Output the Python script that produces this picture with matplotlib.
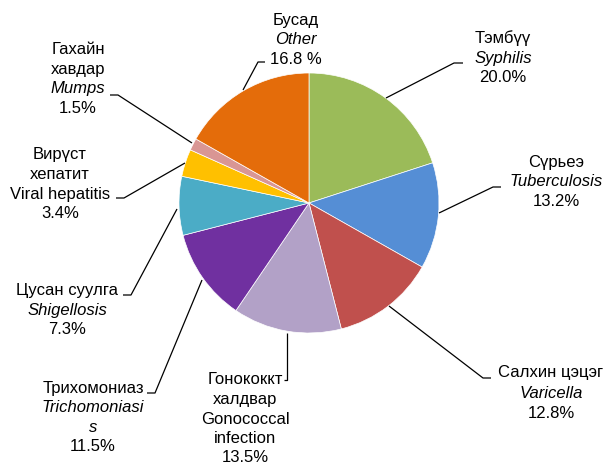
import matplotlib
matplotlib.use("Agg")
import matplotlib.pyplot as plt

plt.rcParams['font.family'] = ['Liberation Sans', 'DejaVu Sans']

# Data (clockwise from 12 o'clock)
categories = ["Syphilis", "Tuberculosis", "Varicella", "Gonococcal infection",
              "Trichomoniasis", "Shigellosis", "Viral hepatitis", "Mumps", "Other"]
values = [20.0, 13.2, 12.8, 13.5, 11.5, 7.3, 3.4, 1.5, 16.8]
colors = ["#9BBB59", "#558ED5", "#C0504D", "#B2A1C7", "#7030A0",
          "#4BACC6", "#FFC000", "#D99694", "#E46C0A"]

# label lines: (text, italic)
label_lines = [
    [("Тэмбүү", False), ("Syphilis", True), ("20.0%", False)],
    [("Сүрьеэ", False), ("Tuberculosis", True), ("13.2%", False)],
    [("Салхин цэцэг", False), ("Varicella", True), ("12.8%", False)],
    [("Гонококкт", False), ("халдвар", False), ("Gonococcal", False),
     ("infection", False), ("13.5%", False)],
    [("Трихомониаз", False), ("Trichomoniasi", True), ("s", True), ("11.5%", False)],
    [("Цусан суулга", False), ("Shigellosis", True), ("7.3%", False)],
    [("Вирүст", False), ("хепатит", False), ("Viral hepatitis", False), ("3.4%", False)],
    [("Гахайн", False), ("хавдар", False), ("Mumps", True), ("1.5%", False)],
    [("Бусад", False), ("Other", True), ("16.8 %", False)],
]

W, H = 612, 466
fig = plt.figure(figsize=(W / 100, H / 100), dpi=100)
ax = fig.add_axes([0, 0, 1, 1])

def Y(y):
    return H - y

cx, cy, r = 309, 203, 130
ax.pie(values, colors=colors, startangle=90, counterclock=False,
       center=(cx, Y(cy)), radius=r,
       wedgeprops=dict(edgecolor="white", linewidth=0.5))

# label layout: center x, first line y, line spacing (pixels)
label_pos = [
    (503, 38, 20),
    (556, 162, 20),
    (551, 373, 20),
    (245, 380, 19.5),
    (93, 388, 19.5),
    (67, 291, 19.5),
    (60, 155, 19.5),
    (78, 50, 19.5),
    (296, 20, 19.5),
]
leaders = [
    [(463, 63), (454, 63), (386, 98)],
    [(501, 187), (493, 187), (439, 213)],
    [(491, 378), (483, 378), (389, 306)],
    [(284, 380), (287, 380), (287, 333)],
    [(147, 393), (155, 393), (202, 280)],
    [(123, 295), (131, 295), (177, 209)],
    [(116, 198), (124, 198), (185, 163)],
    [(110, 95), (118, 95), (192, 143)],
    [(265, 62), (258, 62), (243, 90)],
]

for lines, (x, y0, dy) in zip(label_lines, label_pos):
    for i, (txt, it) in enumerate(lines):
        ax.text(x, Y(y0 + i * dy), txt, ha="center", va="center",
                fontsize=12, style="italic" if it else "normal", color="#000000")

for pts in leaders:
    xs = [p[0] for p in pts]
    ys = [Y(p[1]) for p in pts]
    ax.plot(xs, ys, color="black", linewidth=0.9, solid_capstyle="butt")

ax.set_xlim(0, W)
ax.set_ylim(0, H)
ax.set_aspect("equal")
ax.axis("off")
fig.savefig("out.png", dpi=100, facecolor="white")
